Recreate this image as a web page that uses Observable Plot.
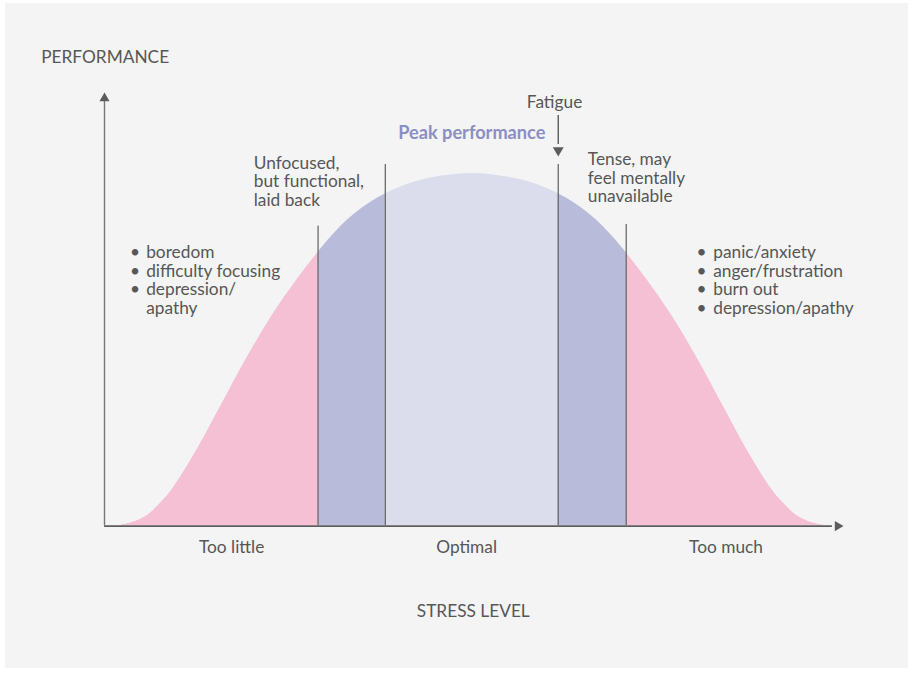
<!DOCTYPE html>
<html>
<head>
<meta charset="utf-8">
<script src="https://cdn.jsdelivr.net/npm/d3@7"></script>
<script src="https://cdn.jsdelivr.net/npm/@observablehq/plot@0.6"></script>
<style>
  html, body { margin: 0; padding: 0; background: #ffffff; }
  #chart { padding: 3px 0 0 5px; }
  #chart svg { display: block; }
</style>
</head>
<body>
<div id="chart"></div>
<script>
// ---- data (stress level 0..100, performance 0..100) ----
const stress = [1.83, 3.72, 5.75, 7.51, 9.13, 12.52, 15.90, 19.28, 22.67, 26.05, 29.43, 32.81, 36.20, 39.58, 42.96, 46.35, 49.73,
                53.11, 56.50, 59.88, 63.26, 66.64, 70.03, 73.41, 76.79, 80.18, 83.56, 86.94, 90.33, 91.95, 93.71, 95.74, 97.63];
const performance = [0, 0.69, 2.31, 5.08, 8.31, 17.55, 28.18, 38.80, 48.50, 56.81, 64.20, 70.44, 74.83, 77.83, 79.79, 80.83, 81.29,
                80.83, 79.79, 77.83, 74.83, 70.44, 64.20, 56.81, 48.50, 38.80, 28.18, 17.55, 8.31, 5.08, 2.31, 0.69, 0];

// zone boundaries along the stress axis
const zoneStarts = [28.9, 38.0, 61.4];
const zoneEnds   = [70.6, 61.4, 70.6];
const zoneNames  = ["near-optimal", "optimal", "near-optimal-right"];
const dividerX   = [28.9, 38.0, 61.4, 70.6];
const dividerTop = [69.1, 83.4, 83.4, 69.5];

const categoryLabels = ["Too little", "Optimal", "Too much"];
const categoryX = [17.2, 49.0, 84.1];

const xTitle = "STRESS LEVEL";
const yTitle = "PERFORMANCE";
const peakLabel = "Peak performance";
const fatigueLabel = "Fatigue";
const lowNote = "Unfocused,\nbut functional,\nlaid back";
const highNote = "Tense, may\nfeel mentally\nunavailable";
const lowSymptoms = "boredom\ndifficulty focusing\ndepression/\napathy";
const lowBullets = "•\n•\n•";
const highSymptoms = "panic/anxiety\nanger/frustration\nburn out\ndepression/apathy";
const highBullets = "•\n•\n•\n•";

// ---- build tables ----
const curve = stress.map((s, i) => ({s, p: performance[i]}));
const zones = zoneStarts.map((a, i) => ({a, b: zoneEnds[i], name: zoneNames[i]}));
const dividers = dividerX.map((x, i) => ({x, top: dividerTop[i]}));
const cats = categoryLabels.map((t, i) => ({t, x: categoryX[i]}));

const bg = "#f3f4f3";
const pink = "#f6c0d4";
const darkBlue = "#b8bbd9";
const lightBlue = "#dbdcec";
const ink = "#575757";
const axisInk = "#5c5c5c";
const lineInk = "#6a6a6a";
const fs = 17.3;
const lh = 1.075;

const plot = Plot.plot({
  width: 903,
  height: 665,
  marginLeft: 99,
  marginRight: 65,
  marginTop: 89,
  marginBottom: 143,
  x: {domain: [0, 100], axis: null},
  y: {domain: [0, 100], axis: null},
  style: {background: bg, fontFamily: "Lato, 'Open Sans', sans-serif", color: ink, overflow: "visible"},
  marks: [
    // full bell in pink
    Plot.areaY(curve, {x: "s", y: "p", fill: pink, curve: "catmull-rom"}),
    // zone bands
    Plot.rectY(zones, {x1: "a", x2: "b", y1: 0, y2: 88, fill: d => d.name === "optimal" ? lightBlue : darkBlue}),
    // mask above the bell
    Plot.areaY(curve, {x: "s", y1: "p", y2: 90, fill: bg, curve: "catmull-rom"}),
    // dividers
    Plot.ruleX(dividers, {x: "x", y1: 0, y2: "top", stroke: lineInk, strokeWidth: 1.3}),
    // axes
    Plot.ruleY([0], {x1: 0, x2: 98.5, stroke: axisInk, strokeWidth: 1.6, dy: 0.6}),
    Plot.ruleX([0], {y1: 0, y2: 98, stroke: "#777", strokeWidth: 1.4}),
    Plot.dot([{x: 0, y: 100}], {x: "x", y: "y", symbol: "triangle2", r: 4.8, fill: axisInk, stroke: null, dy: 5.8}),
    Plot.dot([{x: 100, y: 0}], {x: "x", y: "y", symbol: "triangle2", r: 4.8, fill: axisInk, stroke: null, rotate: 90, dx: -5.8, dy: 0.6}),
    // fatigue arrow
    Plot.ruleX([61.4], {y1: 88, y2: 94.7, stroke: axisInk, strokeWidth: 1.4}),
    Plot.dot([{x: 61.4, y: 85.2}], {x: "x", y: "y", symbol: "triangle2", r: 5.2, fill: axisInk, stroke: null, rotate: 180, dy: -6.3}),
    // texts
    Plot.text(cats, {x: "x", y: -5.06, text: "t", fontSize: fs, fill: ink}),
    Plot.text([xTitle], {x: 49.9, y: -19.9, text: d => d, fontSize: fs, fill: ink}),
    Plot.text([yTitle], {x: -8.57, y: 108.2, text: d => d, fontSize: fs, fill: ink, textAnchor: "start"}),
    Plot.text([fatigueLabel], {x: 60.9, y: 97.7, text: d => d, fontSize: fs, fill: ink}),
    Plot.text([peakLabel], {x: 49.7, y: 90.7, text: d => d, fontSize: 18.2, fontWeight: 700, fill: "#8a8ec4"}),
    Plot.text([lowNote], {x: 20.2, y: 85.5, text: d => d, fontSize: fs, fill: ink, textAnchor: "start", lineAnchor: "top", lineHeight: lh}),
    Plot.text([highNote], {x: 65.4, y: 86.3, text: d => d, fontSize: fs, fill: ink, textAnchor: "start", lineAnchor: "top", lineHeight: lh}),
    Plot.text([lowSymptoms], {x: 5.64, y: 64.8, text: d => d, fontSize: fs, fill: ink, textAnchor: "start", lineAnchor: "top", lineHeight: lh}),
    Plot.text([lowBullets], {x: 4.8, y: 64.8, text: d => d, fontSize: fs, fill: ink, textAnchor: "end", lineAnchor: "top", lineHeight: lh}),
    Plot.text([highSymptoms], {x: 82.37, y: 64.8, text: d => d, fontSize: fs, fill: ink, textAnchor: "start", lineAnchor: "top", lineHeight: lh}),
    Plot.text([highBullets], {x: 81.45, y: 64.8, text: d => d, fontSize: fs, fill: ink, textAnchor: "end", lineAnchor: "top", lineHeight: lh})
  ]
});
document.getElementById("chart").appendChild(plot);
</script>
</body>
</html>
